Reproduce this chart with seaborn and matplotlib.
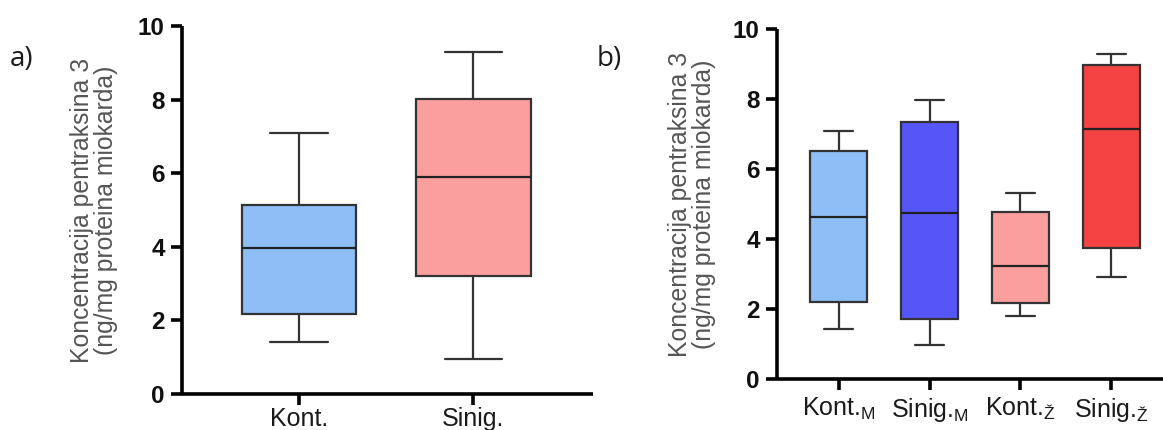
import numpy as np
import pandas as pd
import matplotlib
matplotlib.use("Agg")
import matplotlib.pyplot as plt
import seaborn as sns

# Box summaries per group: [min, Q1, median, Q3, max]
groups_a = ["Kont.", "Sinig."]
kont_a = [1.42, 2.17, 3.96, 5.14, 7.09]
sinig_a = [0.95, 3.20, 5.90, 8.02, 9.28]

groups_b = ["Kont.M", "Sinig.M", "Kont.Ž", "Sinig.Ž"]
tick_labels_b = [r"Kont.$_{\mathregular{M}}$", r"Sinig.$_{\mathregular{M}}$",
                 r"Kont.$_{\mathregular{Ž}}$", r"Sinig.$_{\mathregular{Ž}}$"]
kont_m = [1.42, 2.21, 4.64, 6.52, 7.10]
sinig_m = [0.97, 1.71, 4.75, 7.35, 7.99]
kont_z = [1.80, 2.16, 3.24, 4.78, 5.32]
sinig_z = [2.92, 3.75, 7.16, 8.97, 9.30]

colors_a = ["#8fbef7", "#fa9e9e"]
colors_b = ["#8fbef7", "#5656f8", "#fa9e9e", "#f54242"]

ylabel = "Koncentracija pentraksina 3\n(ng/mg proteina miokarda)"

sns.set_theme(style="ticks")
plt.rcParams["font.family"] = ["Liberation Sans", "DejaVu Sans"]
plt.rcParams["mathtext.fontset"] = "custom"
plt.rcParams["mathtext.rm"] = "Liberation Sans"


def long_frame(names, series):
    rows = []
    for n, vals in zip(names, series):
        for v in vals:
            rows.append({"group": n, "value": v})
    return pd.DataFrame(rows)


df_a = long_frame(groups_a, [kont_a, sinig_a])
df_b = long_frame(groups_b, [kont_m, sinig_m, kont_z, sinig_z])

fig = plt.figure(figsize=(11.63, 4.30), dpi=100)
fig.patch.set_facecolor("white")

ax_a = fig.add_axes([182 / 1163, 1 - 394 / 430, (593 - 182) / 1163, (394 - 26) / 430])
ax_b = fig.add_axes([777 / 1163, 1 - 379 / 430, (1163 - 777) / 1163, (379 - 29.3) / 430])

box_kw = dict(
    whis=(0, 100),
    linecolor="#333333",
    linewidth=1.6,
    showfliers=False,
    saturation=1,
    legend=False,
    medianprops=dict(color="#222222", linewidth=1.6),
)

sns.boxplot(data=df_a, x="group", y="value", hue="group", order=groups_a,
            hue_order=groups_a, palette=colors_a, width=0.655, ax=ax_a, **box_kw)
sns.boxplot(data=df_b, x="group", y="value", hue="group", order=groups_b,
            hue_order=groups_b, palette=colors_b, width=0.63, ax=ax_b, **box_kw)

for ax, xlim, labels, xpad in [(ax_a, (-0.67, 1.685), groups_a, 1.5),
                               (ax_b, (-0.68, 3.57), tick_labels_b, 4)]:
    ax.set_xlim(*xlim)
    ax.set_ylim(0, 10)
    ax.set_yticks([0, 2, 4, 6, 8, 10])
    ax.set_xticks(range(len(labels)))
    ax.set_xticklabels(labels, fontsize=18, color="#1a1a1a")
    for lbl in ax.get_yticklabels():
        lbl.set_fontweight("bold")
        lbl.set_fontsize(17.5)
        lbl.set_color("#111111")
    ax.set_xlabel("")
    ax.set_ylabel(ylabel, fontsize=17.8, color="#555555", linespacing=1.0)
    ax.spines["top"].set_visible(False)
    ax.spines["right"].set_visible(False)
    for s in ("left", "bottom"):
        ax.spines[s].set_linewidth(2.6)
        ax.spines[s].set_color("black")
        ax.spines[s].set_capstyle("butt")
    ax.tick_params(axis="both", length=8, width=2.6, color="black")
    ax.tick_params(axis="y", pad=4.5)
    ax.tick_params(axis="x", pad=xpad)
    ax.set_facecolor("white")

ax_a.yaxis.set_label_coords(-0.156, 0.5)
ax_b.yaxis.set_label_coords(-0.159, 0.5)

fig.text(10 / 1163, 1 - 66 / 430, "a)", fontsize=20, family="Open Sans", color="#1a1a1a")
fig.text(597 / 1163, 1 - 66 / 430, "b)", fontsize=20, family="Open Sans", color="#1a1a1a")

fig.savefig("out.png", dpi=100, facecolor="white")
